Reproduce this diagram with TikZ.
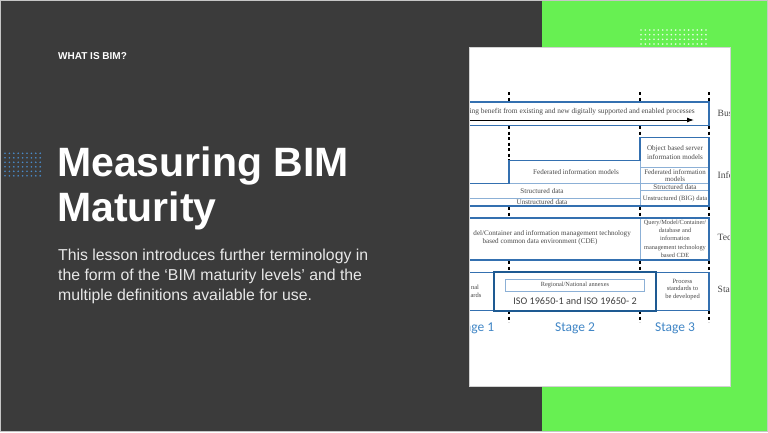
\documentclass[tikz,border=0pt]{standalone}
\usepackage{fontspec}
\setmainfont{Liberation Serif}
\newfontfamily\slidefont{Liberation Sans}
\newfontfamily\calfont{Carlito}
\usetikzlibrary{arrows.meta,positioning}

\definecolor{slidegray}{RGB}{59,59,59}
\definecolor{slidegreen}{RGB}{103,240,82}
\definecolor{dotblue}{RGB}{74,140,204}
\definecolor{boxblue}{RGB}{52,112,176}
\definecolor{thinblue}{RGB}{140,176,214}
\definecolor{isoblue}{RGB}{30,90,146}
\definecolor{stageblue}{RGB}{64,134,198}
\definecolor{cellgray}{RGB}{72,72,72}

\tikzset{outer_line/.style={draw=boxblue, line width=1.3pt},
	inner_line/.style={draw=thinblue, line width=0.7pt},
	stage_tick/.style={draw=black, line width=1.1pt, dash pattern=on 3pt off 2.5pt},
	cell_text/.style={font=\fontsize{7.1}{8.2}\selectfont, text=cellgray, align=center, inner sep=0pt},
	side_text/.style={font=\fontsize{9.6}{11}\selectfont, text=cellgray, anchor=west, inner sep=0pt},
	stage_text/.style={font=\calfont\fontsize{13.5}{15}\selectfont, text=stageblue, inner sep=0pt}
}
\tikzstyle{title_line} = [anchor=base west, inner sep=0pt, text=white, font=\slidefont\bfseries\fontsize{41}{45}\selectfont]
\tikzstyle{body_line} = [anchor=base west, inner sep=0pt, text=white!88!slidegray, font=\slidefont\fontsize{15.8}{20}\selectfont]

\begin{document}
\begin{tikzpicture}[x=1pt,y=-1pt]
	\useasboundingbox (0,0) rectangle (768,432);
	% slide background
	\fill[slidegray] (0,0) rectangle (768,432);
	\fill[slidegreen] (542,0) rectangle (768,432);
	\draw[gray!45, line width=1pt] (0.5,0.5) rectangle (767.5,431.5);
	\foreach \i in {0,...,8}
		\foreach \j in {0,...,5}
			\fill[dotblue] (5+4.4*\i,153.3+4.5*\j) circle (0.9);
	\foreach \i in {0,...,15}
		\foreach \j in {0,...,3}
			\fill[white!85!slidegreen] (641+4.33*\i,30+4.67*\j) circle (0.9);
	
	% left text
	\node[anchor=base west, inner sep=0pt, text=white, font=\slidefont\bfseries\fontsize{10}{12}\selectfont] (what) at (58,59.3) {WHAT IS BIM?};
	\node[title_line] (title_a) at (57,176.7) {Measuring BIM};
	\node[title_line] (title_b) at ([yshift=-45pt]title_a.base west) {Maturity};
	\node[body_line] (body_a) at (58,260.7) {This lesson introduces further terminology in};
	\node[body_line] (body_b) at ([yshift=-20pt]body_a.base west) {the form of the ‘BIM maturity levels’ and the};
	\node[body_line] (body_c) at ([yshift=-20pt]body_b.base west) {multiple definitions available for use.};
	
	% picture of the maturity levels
	\fill[white] (469,47) rectangle (730,386);
	\begin{scope}
		\clip (469,47) rectangle (730,386);
		% stage ticks
		\foreach \x in {509,640,709} {
			\draw[stage_tick] (\x,92) -- (\x,102);
			\draw[stage_tick] (\x,207) -- (\x,217);
			\draw[stage_tick] (\x,261) -- (\x,272);
			\draw[stage_tick] (\x,311) -- (\x,322);
		}
		\draw[stage_tick] (509,126) -- (509,160);
		\draw[stage_tick] (640,126) -- (640,137);
		\draw[stage_tick] (709,126) -- (709,137);
		
		% business
		\draw[outer_line] (460,102) -- (709,102) -- (709,125.5) -- (460,125.5);
		\node[cell_text, font=\fontsize{7.4}{8}\selectfont, anchor=east] (bus_text) at (695,111.5) {asing benefit from existing and new digitally supported and enabled processes};
		\coordinate (arrow_start) at (469,120);
		\coordinate (arrow_end) at (694,120);
		\draw[line width=1pt, -{Latex[length=7pt,width=5pt]}] (arrow_start) -- (arrow_end);
		\node[side_text] (bus) at (717.5,113) {Bus};
		
		% information
		\draw[inner_line] (509,183.3) -- (709,183.3);
		\draw[inner_line] (640,160.7) -- (640,206);
		\draw[inner_line] (640,167.7) -- (709,167.7);
		\draw[inner_line] (640,190.7) -- (709,190.7);
		\draw[inner_line] (460,198.3) -- (640,198.3);
		\draw[outer_line] (460,183.3) -- (509,183.3) -- (509,160.7) -- (640,160.7) -- (640,137.3) -- (709,137.3) -- (709,206) -- (460,206);
		\node[cell_text] (obj) at (675,152.5) {Object based server\\information models};
		\node[cell_text] (fed) at (576,172.3) {Federated information models};
		\node[cell_text, font=\fontsize{6.9}{6.6}\selectfont] (fed_r) at (675,175.3) {Federated information\\models};
		\node[cell_text] (struct_r) at (675,187.2) {Structured data};
		\node[cell_text, font=\fontsize{6.6}{8}\selectfont] (unstruct_r) at (675,199) {Unstructured (BIG) data};
		\node[cell_text] (struct) at (542,191) {Structured data};
		\node[cell_text] (unstruct) at (542,202.5) {Unstructured data};
		\node[side_text] (info) at (717.5,175) {Info};
		
		% technology
		\draw[inner_line] (640,218) -- (640,260);
		\draw[outer_line] (460,218) rectangle (709,260);
		\node[cell_text, anchor=east] (cde_a) at (631,233.3) {del/Container and information management technology};
		\node[cell_text] (cde_b) at (540,241.7) {based common data environment (CDE)};
		\node[cell_text, font=\fontsize{6.3}{8.2}\selectfont] (cde_r) at (675,238.7) {Query/Model/Container/\\database and\\information\\management technology\\based CDE};
		\node[side_text] (tec) at (717.5,237) {Tec};
		
		% standards
		\draw[inner_line] (493.3,272.3) -- (493.3,310.5);
		\draw[outer_line] (460,272.3) rectangle (709,310.5);
		\draw[draw=isoblue, line width=2pt] (494.3,272.3) rectangle (656,310.5);
		\draw[inner_line] (505.7,279.5) rectangle (644.3,291);
		\node[cell_text, font=\fontsize{6.3}{7}\selectfont] (annex) at (575,285.3) {Regional/National annexes};
		\node[inner sep=0pt, text=black!75, font=\calfont\fontsize{10.2}{12}\selectfont] (iso) at (575,301) {ISO 19650-1 and ISO 19650- 2};
		\node[cell_text, font=\fontsize{6.5}{7.7}\selectfont] (process) at (682.5,289.4) {Process\\standards to\\be developed};
		\node[cell_text, font=\fontsize{6.5}{7.7}\selectfont] (nat_a) at (475,287.7) {nal};
		\node[cell_text, font=\fontsize{6.5}{7.7}\selectfont] (nat_b) at (476,295.7) {ards};
		\node[side_text] (sta) at (717.5,289) {Sta};
		
		% stages
		\node[stage_text, anchor=east] (stage_a) at (494.5,328.3) {age 1};
		\node[stage_text] (stage_b) at (575,328.3) {Stage 2};
		\node[stage_text] (stage_c) at (675,328.3) {Stage 3};
	\end{scope}
	\draw[gray!35, line width=0.6pt] (469,47) rectangle (730,386);
\end{tikzpicture}
\end{document}
